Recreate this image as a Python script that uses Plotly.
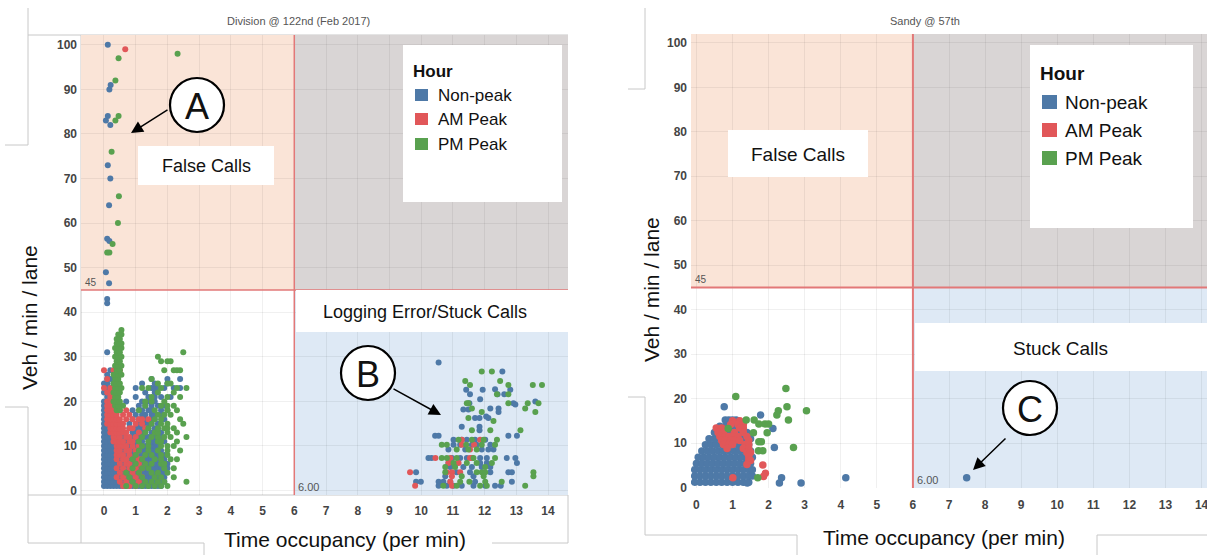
import plotly.graph_objects as go

W, H = 1207, 555

# ---------------- data ----------------
CATEGORIES = ["Non-peak", "AM Peak", "PM Peak"]
PANEL_TITLES = ["Division @ 122nd (Feb 2017)", "Sandy @ 57th"]
X_TICKS = list(range(0, 15))
Y_TICKS = list(range(0, 101, 10))
OCC_SPLIT = 6.0
VOL_SPLIT = 45.0

# Left panel (Division @ 122nd): rows {veh/min/lane: [occupancy values]}
L_NON_ROWS = {
    1: [0, 0.1, 0.2, 0.3, 0.4, 0.5, 0.6, 0.7, 0.8, 0.9, 1.0, 1.1, 1.2, 1.3, 1.4, 1.5, 1.6, 1.7, 1.8],
    2: [0, 0.1, 0.2, 0.3, 0.4, 0.5, 0.6, 0.7, 0.8, 0.9, 1.0, 1.1, 1.2, 1.3, 1.4, 1.5, 1.6, 1.8, 1.9],
    3: [0, 0.1, 0.2, 0.3, 0.4, 0.5, 0.7, 0.9, 1.0, 1.1, 1.2, 1.3, 1.4, 1.5, 1.6, 1.7, 1.9],
    4: [0, 0.1, 0.2, 0.3, 0.4, 0.6, 0.8, 1.0, 1.1, 1.2, 1.3, 1.4, 1.5, 1.6, 1.8, 1.9],
    5: [0, 0.1, 0.2, 0.3, 0.4, 0.5, 0.7, 0.9, 1.1, 1.2, 1.3, 1.5, 1.6, 1.7, 1.8, 2.0],
    6: [0, 0.1, 0.2, 0.3, 0.4, 0.6, 0.9, 1.0, 1.2, 1.4, 1.5, 1.6, 1.7, 2.0],
    7: [0, 0.1, 0.2, 0.3, 0.4, 0.5, 0.8, 1.0, 1.1, 1.3, 1.4, 1.5, 1.7, 1.9],
    8: [0, 0.1, 0.2, 0.3, 0.4, 0.7, 0.9, 1.1, 1.2, 1.4, 1.6, 1.7, 1.9],
    9: [0, 0.1, 0.2, 0.3, 0.6, 0.9, 1.0, 1.2, 1.3, 1.5, 1.6, 1.8],
    10: [0, 0.1, 0.2, 0.3, 0.5, 0.8, 1.0, 1.1, 1.3, 1.5, 1.6, 1.7],
    11: [0, 0.1, 0.2, 0.3, 0.7, 1.0, 1.1, 1.2, 1.4, 1.5, 1.6, 1.9],
    12: [0, 0.1, 0.2, 0.3, 0.6, 0.9, 1.1, 1.3, 1.4, 1.6, 1.8],
    13: [0, 0.1, 0.2, 0.9, 1.0, 1.2, 1.3, 1.5, 1.6, 1.8],
    14: [0, 0.1, 0.2, 0.8, 1.0, 1.1, 1.2, 1.4, 1.6, 1.7],
    15: [0, 0.1, 0.2, 0.8, 1.1, 1.3, 1.4, 1.5, 1.7],
    16: [0, 0.1, 0.9, 1.1, 1.3, 1.5, 1.6, 1.9],
    17: [0, 0.1, 0.2, 1.0, 1.2, 1.3, 1.5, 1.6, 1.8],
    18: [0, 0.1, 0.9, 1.2, 1.4, 1.5, 1.8, 2.0],
    19: [0, 0.1, 0.2, 1.1, 1.3, 1.5, 1.7, 1.9],
    20: [0, 0.1, 0.7, 1.2, 1.4, 1.6],
    21: [0.1, 0.2, 1.0, 1.4, 1.6, 1.8, 2.1],
    22: [0, 0.1, 0.3, 1.3, 1.6],
    23: [0.1, 0.2, 1.0, 1.5, 1.6, 1.7, 1.9, 2.2, 2.4],
    24: [0, 0.1, 0.3, 1.2, 1.6, 2.0],
    25: [0.1, 0.2, 1.5, 2.0, 2.4],
    26: [0.1],
    27: [0.2],
    31: [0.1],
    42: [0.1],
    43: [0.1],
}
L_NON_PTS = [
    (0.12, 100), (0.21, 91), (0.17, 90), (0.06, 83), (0.12, 84), (0.2, 82),
    (0.12, 73), (0.2, 70), (0.16, 64), (0.1, 56.5), (0.17, 56), (0.06, 49),
    (0.16, 46.5),
    (10.55, 28.7), (12.56, 26.7), (11.42, 22.6), (11.94, 22.6), (12.33, 22.7),
    (12.81, 22.6), (11.54, 21.6), (12.41, 21.6), (12.62, 21.6), (11.86, 20.5),
    (11.52, 19.6), (12.91, 19.6), (13.6, 20.0), (12.97, 19.3), (11.33, 18.2),
    (11.49, 18.2), (12.18, 18.4), (12.44, 18.4), (12.44, 17.6), (11.7, 16.3),
    (11.84, 16.3), (12.05, 16.6), (12.12, 16.3), (11.28, 14.3), (11.84, 14.3),
    (11.84, 13.5), (10.44, 12.3), (10.55, 12.3), (12.75, 12.3), (13.02, 12.3),
    (11.02, 11.4), (11.28, 11.4), (11.44, 11.4), (11.7, 11.4), (12.02, 11.4),
    (11.02, 10.3), (11.23, 10.3), (11.6, 10.3), (11.75, 10.3), (12.18, 10.3),
    (10.86, 9.2), (11.39, 9.2), (11.91, 9.2), (12.12, 9.2), (12.28, 9.2),
    (10.23, 7.3), (10.33, 7.3), (10.97, 7.3), (11.23, 7.3), (11.44, 7.3),
    (11.86, 7.3), (12.07, 7.3), (12.7, 7.3), (12.97, 7.3), (10.86, 6.2),
    (11.86, 6.2), (12.07, 6.2), (13.02, 6.2), (10.92, 5.3), (11.33, 5.3),
    (11.6, 5.3), (11.91, 5.3), (12.18, 5.3), (9.84, 4.1), (11.12, 4.1),
    (11.54, 4.1), (12.18, 4.1), (12.75, 4.1), (12.86, 4.1), (10.76, 3.2),
    (11.65, 3.2), (9.84, 2.0), (9.99, 2.0), (10.55, 2.0), (10.7, 2.0),
    (10.92, 2.0), (11.7, 2.0), (12.86, 2.0), (10.55, 1.1), (10.81, 1.1),
    (11.02, 1.1), (11.28, 1.1), (11.65, 1.1), (12.02, 1.1), (12.33, 1.1),
    (12.51, 1.1),
]

L_AM_ROWS = {
    1: [0.6, 0.8, 1.0],
    2: [0.5, 0.7, 0.9, 1.1],
    3: [0.4, 0.6, 0.8, 1.0, 1.2],
    4: [0.5, 0.7, 0.9, 1.1],
    5: [0.4, 0.6, 0.8, 1.0, 1.2],
    6: [0.5, 0.7, 0.8, 1.0, 1.1],
    7: [0.4, 0.6, 0.7, 0.9, 1.1, 1.2],
    8: [0.4, 0.5, 0.6, 0.8, 1.0],
    9: [0.4, 0.5, 0.7, 0.8, 1.0, 1.1],
    10: [0.4, 0.5, 0.6, 0.7, 0.9, 1.1],
    11: [0.3, 0.4, 0.5, 0.6, 0.8, 0.9],
    12: [0.3, 0.4, 0.5, 0.7, 0.8, 1.0],
    13: [0.2, 0.3, 0.4, 0.5, 0.6, 0.7, 1.1],
    14: [0.2, 0.3, 0.4, 0.5, 0.6, 0.8, 0.9, 1.3],
    15: [0.1, 0.2, 0.3, 0.4, 0.5, 0.6, 1.0, 1.2],
    16: [0.1, 0.2, 0.3, 0.4, 0.5, 0.7, 0.9, 1.1, 1.2, 1.4],
    17: [0.1, 0.2, 0.3, 0.4, 0.6, 0.8],
    18: [0.1, 0.2, 0.3, 0.5, 0.7],
    19: [0.1, 0.2, 0.3, 0.4],
    20: [0.1, 0.2, 0.3],
    21: [0.2, 0.3],
    22: [0.1, 0.2],
    23: [0.0, 0.2],
    25: [0.1],
    27: [0.0, 0.3, 0.5],
}
L_AM_PTS = [
    (0.67, 99),
    (11.28, 11.4), (11.86, 11.4), (11.28, 10.3), (11.67, 10.3), (11.54, 9.2),
    (10.92, 7.3), (11.54, 7.3), (11.6, 7.3), (10.45, 7.3), (10.86, 6.2),
    (11.18, 6.2), (9.65, 4.1), (10.81, 4.1), (10.97, 4.1), (11.23, 4.1),
    (10.97, 3.2), (10.92, 2.0), (9.81, 1.1), (10.97, 1.1),
]

L_PM_ROWS = {
    1: [0.7, 1.0, 1.2, 1.4, 1.6, 1.8, 2.0],
    2: [0.9, 1.3, 1.5, 1.7, 1.9, 2.6],
    3: [0.8, 1.2, 1.6, 1.8, 2.2],
    4: [0.7, 1.1, 1.5, 1.7, 2.0],
    5: [0.9, 1.2, 1.4, 1.9, 2.2],
    6: [1.0, 1.3, 1.5, 1.8, 1.9],
    7: [0.9, 1.2, 1.6, 1.8, 2.1, 2.3],
    8: [1.0, 1.3, 1.5, 1.8, 2.0],
    9: [1.1, 1.4, 1.7, 2.0, 2.4],
    10: [1.2, 1.4, 1.8, 2.0, 2.2],
    11: [1.1, 1.4, 1.7, 1.8, 2.3],
    12: [1.2, 1.5, 1.7, 1.9, 2.1, 2.6],
    13: [1.3, 1.6, 1.7, 2.0, 2.3],
    14: [1.4, 1.7, 1.9, 2.0, 2.2],
    15: [1.5, 1.8, 2.0, 2.5],
    16: [1.6, 1.8, 2.4],
    17: [1.7, 1.9, 2.1],
    18: [0.4, 0.5, 1.1, 1.6, 2.0, 2.3],
    19: [0.35, 0.45, 0.6, 1.3, 1.8, 2.0, 2.2],
    20: [0.3, 0.4, 0.5, 1.3, 1.5, 1.9],
    21: [0.35, 0.45, 1.5, 2.0, 2.4],
    22: [0.3, 0.4, 0.5, 1.7, 2.2],
    23: [0.35, 0.45, 0.55, 1.2, 1.4, 1.8, 2.3, 2.6],
    24: [0.3, 0.4, 0.5, 1.7, 2.0, 2.1],
    25: [0.35, 0.45, 1.5],
    26: [0.3, 0.45, 0.55],
    27: [0.4, 0.5, 1.9, 2.2, 2.3, 2.4],
    28: [0.35, 0.45, 0.55],
    29: [0.4, 0.5, 1.8, 2.0, 2.1],
    30: [0.35, 0.45, 0.55, 1.7],
    31: [0.4, 0.5, 2.5],
    32: [0.35, 0.45, 0.55],
    33: [0.4, 0.5, 0.55],
    34: [0.4, 0.5],
    35: [0.45, 0.55],
    36: [0.55],
}
L_PM_PTS = [
    (0.46, 97), (2.32, 98), (0.36, 92), (0.36, 83), (0.46, 84), (0.24, 76),
    (0.47, 66), (0.44, 60), (0.27, 55.3), (0.1, 53.4), (0.17, 53.4),
    (11.91, 26.7), (12.23, 26.7), (11.39, 24.6), (12.49, 24.6), (13.52, 23.7),
    (13.81, 23.7), (11.54, 23.7), (12.75, 23.7), (12.39, 21.6), (12.75, 21.6),
    (11.44, 19.6), (11.49, 19.6), (12.75, 19.6), (13.36, 19.6), (13.7, 19.6),
    (13.28, 18.4), (13.6, 17.6), (11.6, 18.4), (11.91, 17.6), (11.49, 16.3),
    (12.28, 15.6), (11.6, 13.5), (12.18, 13.5), (13.13, 13.5), (12.39, 11.4),
    (11.18, 11.4), (11.6, 11.4), (11.97, 11.4), (10.65, 10.3), (10.81, 10.3),
    (11.42, 10.3), (11.91, 10.3), (12.33, 10.3), (11.12, 9.2), (11.49, 9.2),
    (11.75, 9.2), (10.65, 7.3), (10.81, 7.3), (11.12, 7.3), (11.65, 7.3),
    (12.33, 7.3), (11.02, 6.2), (11.44, 6.2), (11.75, 6.2), (12.23, 6.2),
    (10.76, 5.3), (11.07, 5.3), (12.02, 5.3), (10.76, 4.1), (11.75, 4.1),
    (11.91, 4.1), (12.02, 4.1), (13.54, 4.1), (11.28, 3.2), (11.97, 3.2),
    (13.54, 3.2), (11.23, 2.0), (11.52, 2.0), (12.02, 2.0), (12.54, 2.0),
    (10.7, 1.1), (11.12, 1.1), (11.86, 1.1), (12.07, 1.1), (13.28, 1.1),
]

# Right panel (Sandy @ 57th)
R_NON_ROWS = {
    1.2: [-0.05, 0.1, 0.25, 0.4, 0.55, 0.7, 0.85, 1.0, 1.15, 1.3, 1.45],
    2.6: [-0.05, 0.1, 0.25, 0.4, 0.55, 0.7, 0.85, 1.0, 1.15, 1.3, 1.45, 1.55],
    4.0: [-0.05, 0.1, 0.25, 0.4, 0.55, 0.7, 0.85, 1.0, 1.15, 1.3, 1.45, 1.55],
    5.4: [0.0, 0.15, 0.3, 0.45, 0.6, 0.75, 0.9, 1.05, 1.2, 1.35, 1.5],
    6.8: [0.05, 0.2, 0.35, 0.5, 0.65, 0.8, 0.95, 1.1, 1.25, 1.4, 1.55],
    8.2: [0.15, 0.3, 0.45, 0.6, 0.75, 0.9, 1.05, 1.2, 1.35, 1.5],
    9.6: [0.25, 0.4, 0.55, 0.7, 0.85, 1.0, 1.15, 1.3, 1.45],
    11.0: [0.35, 0.5, 0.65, 0.8, 0.95, 1.1, 1.25, 1.4, 1.5],
    12.4: [0.5, 0.65, 0.8, 0.95, 1.1, 1.25, 1.4],
    13.8: [0.65, 0.8, 0.95, 1.1, 1.25],
    15.2: [0.8, 0.9, 1.0, 1.1],
}
R_NON_PTS = [
    (0.77, 18.2), (1.78, 16.3), (2.12, 13.3), (2.16, 9.0), (2.36, 2.2),
    (2.3, 1.0), (2.9, 1.0), (4.14, 2.2), (1.41, 1.0), (7.49, 2.2),
]
R_AM_ROWS = {
    15.0: [1.0, 1.2],
    14.2: [0.95, 1.15, 1.3],
    13.4: [0.55, 0.7, 1.2, 1.3],
    12.4: [0.6, 0.75, 1.05, 1.3],
    11.5: [0.65, 0.8, 0.9, 1.0, 1.15, 1.4],
    10.6: [0.7, 0.8, 0.95, 1.05, 1.2, 1.45],
    9.7: [0.75, 0.9, 1.0, 1.35, 1.45],
    8.8: [0.85, 1.3, 1.45],
    7.9: [1.4, 1.5],
    7.0: [1.45],
    6.1: [1.45, 1.5],
    5.2: [1.4],
}
R_AM_PTS = [(1.84, 5.1), (1.91, 3.2), (1.86, 2.5), (1.01, 2.2)]
R_PM_PTS = [
    (2.48, 22.3), (1.09, 20.5), (2.51, 18.2), (3.05, 17.3), (2.27, 17.3),
    (2.23, 16.3), (2.55, 15.2), (1.9, 14.3), (2.0, 14.3), (1.6, 15.2),
    (1.73, 14.3), (1.96, 12.3), (1.73, 10.3), (1.8, 10.3), (1.72, 8.3),
    (1.84, 8.3), (2.69, 9.0), (1.7, 2.2), (0.88, 13.3), (1.38, 15.2),
    (1.58, 12.3),
]

# ---------------- styling / layout constants ----------------
COLORS = ["#4e79a7", "#e15759", "#59a14f"]
FONT = "Arial, Liberation Sans, sans-serif"

PANELS = [
    dict(xa="x", ya="y", px=(81, 568), py=(35, 495), xr=(-0.725, 14.63), yr=(-1.0, 102.2),
         msize=6, lw=1.5, xstand=7),
    dict(xa="x2", ya="y2", px=(691, 1207), py=(34, 488), xr=(-0.15, 14.15), yr=(-0.1, 102.0),
         msize=7.5, lw=2, xstand=8),
]


def fx(p):
    return p / W


def fy(p):
    return 1 - p / H


def expand(rows, pts):
    xs, ys = [], []
    for yv, xl in rows.items():
        for xv in xl:
            xs.append(xv)
            ys.append(yv)
    for xv, yv in pts:
        xs.append(xv)
        ys.append(yv)
    return xs, ys


fig = go.Figure()

series = [
    [(L_NON_ROWS, L_NON_PTS), (L_AM_ROWS, L_AM_PTS), (L_PM_ROWS, L_PM_PTS)],
    [(R_NON_ROWS, R_NON_PTS), (R_AM_ROWS, R_AM_PTS), ({}, R_PM_PTS)],
]
for pi, panel in enumerate(PANELS):
    for ci, (rows, pts) in enumerate(series[pi]):
        xs, ys = expand(rows, pts)
        fig.add_trace(go.Scatter(
            x=xs, y=ys, mode="markers", name=CATEGORIES[ci], showlegend=False,
            xaxis=panel["xa"], yaxis=panel["ya"],
            marker=dict(color=COLORS[ci], size=panel["msize"], line=dict(width=0)),
            hoverinfo="skip",
        ))

shapes = []
annotations = []

for panel in PANELS:
    xa, ya = panel["xa"], panel["ya"]
    x0, x1 = panel["xr"]
    y0, y1 = panel["yr"]
    shapes.append(dict(type="rect", xref=xa, yref=ya, x0=x0, x1=OCC_SPLIT, y0=VOL_SPLIT, y1=y1,
                       fillcolor="rgb(250,228,215)", line=dict(width=0), layer="below"))
    shapes.append(dict(type="rect", xref=xa, yref=ya, x0=OCC_SPLIT, x1=x1, y0=VOL_SPLIT, y1=y1,
                       fillcolor="rgb(217,213,213)", line=dict(width=0), layer="below"))
    shapes.append(dict(type="rect", xref=xa, yref=ya, x0=OCC_SPLIT, x1=x1, y0=y0, y1=VOL_SPLIT,
                       fillcolor="rgb(222,233,245)", line=dict(width=0), layer="below"))
    shapes.append(dict(type="line", xref=xa, yref=ya, x0=OCC_SPLIT, x1=OCC_SPLIT, y0=y0, y1=y1,
                       line=dict(color="rgb(226,120,120)", width=panel["lw"]), layer="between"))
    shapes.append(dict(type="line", xref=xa, yref=ya, x0=x0, x1=x1, y0=VOL_SPLIT, y1=VOL_SPLIT,
                       line=dict(color="rgb(226,120,120)", width=panel["lw"]), layer="between"))
    annotations.append(dict(text="45", xref=xa, yref=ya, x=x0, y=VOL_SPLIT, xanchor="left",
                            yanchor="bottom", xshift=2, showarrow=False,
                            font=dict(family=FONT, size=10, color="#555")))
    annotations.append(dict(text="6.00", xref=xa, yref=ya, x=OCC_SPLIT, y=y0, xanchor="left",
                            yanchor="bottom", xshift=2, showarrow=False,
                            font=dict(family=FONT, size=11, color="#555")))


def label(text, cx, cy, size, bold=False, anchor="center", angle=0, color="#111"):
    annotations.append(dict(text=f"<b>{text}</b>" if bold else text, xref="paper",
                            yref="paper", x=fx(cx), y=fy(cy), xanchor=anchor,
                            yanchor="middle", showarrow=False, textangle=angle,
                            font=dict(family=FONT, size=size, color=color)))


def white_box(x0, y0, x1, y1):
    shapes.append(dict(type="rect", xref="paper", yref="paper", x0=fx(x0), x1=fx(x1),
                       y0=fy(y1), y1=fy(y0), fillcolor="white", line=dict(width=0),
                       layer="above"))


# panel titles
label(PANEL_TITLES[0], 298, 21, 11, color="#555")
label(PANEL_TITLES[1], 925, 21, 11, color="#555")

# axis titles
label("Time occupancy (per min)", 345, 539, 21)
label("Time occupancy (per min)", 944, 537, 21)
label("Veh / min / lane", 29, 318, 21, angle=-90)
label("Veh / min / lane", 651, 290, 21, angle=-90)

# region labels
white_box(138, 146, 274, 185)
label("False Calls", 206, 166, 18)
white_box(296, 290, 568, 332)
label("Logging Error/Stuck Calls", 425, 312, 18)
white_box(728, 130, 868, 177)
label("False Calls", 798, 154, 19)
white_box(915, 323, 1207, 371)
label("Stuck Calls", 1060, 348, 19)

# legends
legends = [
    dict(box=(403, 45, 562, 202), title=(411, 71), sq_x=(415, 428), rows=[95, 119, 144],
         tx=436, size=17, sq=12),
    dict(box=(1030, 45, 1193, 228), title=(1038, 74), sq_x=(1042, 1057), rows=[102, 130, 158],
         tx=1063, size=19, sq=14),
]
for lg in legends:
    white_box(*lg["box"])
    label("Hour", lg["title"][0], lg["title"][1], lg["size"], bold=True, anchor="left")
    for ci, ry in enumerate(lg["rows"]):
        shapes.append(dict(type="rect", xref="paper", yref="paper",
                           x0=fx(lg["sq_x"][0]), x1=fx(lg["sq_x"][1]),
                           y0=fy(ry + lg["sq"] / 2), y1=fy(ry - lg["sq"] / 2),
                           fillcolor=COLORS[ci], line=dict(width=0), layer="above"))
        label(CATEGORIES[ci], lg["tx"], ry, lg["size"], anchor="left")

# circled letters with arrows
callouts = [
    ("A", (197, 105), (169, 109), (131, 133)),
    ("B", (368, 373), (392, 388), (441, 415)),
    ("C", (1030, 408), (1007, 437), (973, 470)),
]
R = 27
for letter, (cx, cy), (tx, ty), (hx, hy) in callouts:
    annotations.append(dict(text="", xref="paper", yref="paper", x=fx(hx), y=fy(hy),
                            ax=tx - hx, ay=ty - hy, axref="pixel", ayref="pixel",
                            showarrow=True, arrowhead=2, arrowsize=1.6, arrowwidth=1.5,
                            arrowcolor="black", standoff=0, startstandoff=0))
    shapes.append(dict(type="circle", xref="paper", yref="paper",
                       x0=fx(cx - R), x1=fx(cx + R), y0=fy(cy + R), y1=fy(cy - R),
                       fillcolor="white", line=dict(color="black", width=2.2), layer="above"))
    label(letter, cx, cy + 1, 36)

# Tableau pane frame lines
frame = [
    (28, 8, 28, 145), (5, 145, 28, 145), (28, 35, 568, 35),
    (28, 407, 28, 543), (5, 407, 28, 407), (28, 495, 568, 495), (81, 35, 81, 543),
    (28, 543, 204, 543), (204, 543, 204, 555), (492, 543, 568, 543), (568, 495, 568, 543),
    (645, 8, 645, 89), (628, 89, 645, 89), (645, 397, 645, 535), (628, 397, 645, 397),
    (645, 535, 797, 535), (797, 535, 797, 555), (1097, 535, 1097, 555), (1097, 535, 1207, 535),
]
for a, b, c, d in frame:
    shapes.append(dict(type="line", xref="paper", yref="paper", x0=fx(a), y0=fy(b),
                       x1=fx(c), y1=fy(d), line=dict(color="rgb(200,200,200)", width=1),
                       layer="below"))

axis_common = dict(showgrid=True, gridcolor="rgba(0,0,0,0.06)", gridwidth=1, zeroline=False,
                   showline=False, ticks="", automargin=False, fixedrange=True,
                   ticklabeloverflow="allow",
                   tickfont=dict(family=FONT, size=12, color="#444", weight="bold"))

layout_axes = {}
for i, panel in enumerate(PANELS):
    sfx = "" if i == 0 else "2"
    layout_axes["xaxis" + sfx] = dict(
        axis_common, domain=[fx(panel["px"][0]), fx(panel["px"][1])], range=list(panel["xr"]),
        tickmode="array", tickvals=X_TICKS, ticktext=[str(t) for t in X_TICKS],
        anchor="y" + sfx, ticklabelstandoff=panel["xstand"])
    layout_axes["yaxis" + sfx] = dict(
        axis_common, domain=[fy(panel["py"][1]), fy(panel["py"][0])], range=list(panel["yr"]),
        tickmode="array", tickvals=Y_TICKS, ticktext=[str(t) for t in Y_TICKS],
        anchor="x" + sfx, ticklabelstandoff=3)

fig.update_layout(
    width=W, height=H, autosize=False,
    margin=dict(l=0, r=0, t=0, b=0),
    paper_bgcolor="white", plot_bgcolor="white",
    showlegend=False,
    shapes=shapes, annotations=annotations,
    **layout_axes,
)

fig.write_html("out.html", include_plotlyjs=True, config={"displayModeBar": False})
